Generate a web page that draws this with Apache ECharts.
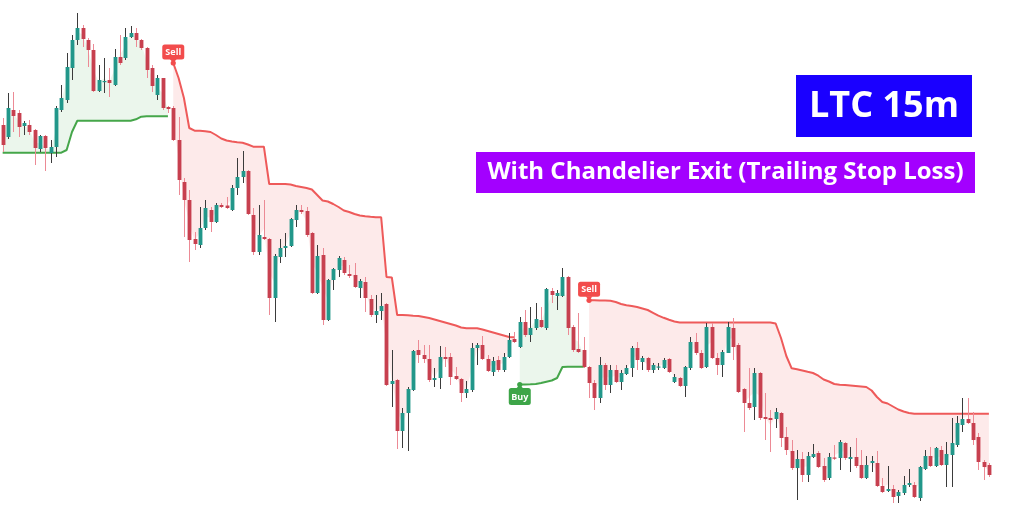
<!DOCTYPE html>
<html>
<head>
<meta charset="utf-8">
<script src="https://cdn.jsdelivr.net/npm/echarts/dist/echarts.min.js"></script>
<style>
  html, body { margin: 0; padding: 0; background: #ffffff; }
  #chart { width: 1013px; height: 531px; }
</style>
</head>
<body>
<div id="chart"></div>
<script>
// LTC 15m candles (bar 0 .. 185)
const openPrices = [
  47.5, 46.3, 49.0, 48.7, 47.4, 47.5, 47.0, 45.1, 46.4, 44.7,
  45.3, 49.0, 50.0, 53.2, 56.0, 57.2, 56.0, 55.0, 50.9, 51.8,
  52.0, 51.5, 54.3, 54.2, 56.3, 56.7, 56.0, 55.2, 53.2, 50.5,
  52.2, 49.3, 49.2, 46.0, 41.8, 40.0, 36.1, 35.5, 37.2, 39.0,
  37.8, 39.5, 39.45, 39.0, 41.2, 42.3, 42.9, 38.5, 34.8, 36.3,
  36.1, 30.2, 34.3, 35.2, 35.4, 38.0, 39.0, 38.9, 36.7, 30.7,
  34.5, 28.0, 32.0, 33.0, 34.0, 32.6, 32.5, 31.2, 31.8, 30.1,
  28.5, 28.9, 29.6, 21.6, 22.0, 16.9, 18.7, 21.0, 25.0, 24.5,
  24.1, 22.0, 22.2, 24.3, 24.3, 22.4, 22.1, 20.7, 21.0, 25.2,
  25.5, 24.1, 22.8, 24.0, 23.0, 24.3, 26.1, 25.3, 27.8, 26.5,
  27.2, 28.0, 27.2, 30.9, 30.4, 30.4, 32.3, 27.3, 25.1, 25.0,
  23.3, 21.7, 20.2, 23.5, 21.5, 23.0, 21.8, 22.6, 23.2, 25.2,
  23.8, 24.2, 23.0, 23.25, 23.2, 24.1, 21.8, 22.2, 21.4, 23.2,
  25.8, 24.7, 23.3, 27.3, 24.2, 23.5, 24.7, 27.2, 25.5, 21.1,
  19.7, 19.3, 22.7, 18.3, 18.2, 18.1, 18.7, 16.3, 14.9, 13.2,
  14.1, 12.5, 14.3, 14.7, 13.4, 12.2, 14.25, 14.2, 15.7, 14.1,
  14.3, 13.5, 12.2, 13.7, 13.7, 11.4, 10.9, 11.1, 10.4, 10.7,
  11.5, 11.5, 10.2, 13.1, 14.4, 13.4, 15.0, 13.5, 14.5, 15.5,
  17.5, 18.1, 17.7, 16.3, 13.8, 13.5
];
const highPrices = [
  48.2, 50.7, 50.8, 49.0, 47.9, 48.0, 47.1, 46.5, 46.5, 46.0,
  49.4, 51.5, 54.7, 56.5, 58.7, 57.5, 56.2, 55.6, 53.5, 54.2,
  53.2, 55.1, 56.5, 57.2, 57.4, 57.2, 56.1, 55.3, 53.5, 52.5,
  52.2, 49.4, 49.4, 48.3, 42.2, 41.0, 36.8, 39.3, 40.0, 39.3,
  39.7, 39.7, 40.3, 41.5, 44.2, 44.9, 43.0, 39.2, 39.5, 40.0,
  36.2, 34.6, 36.1, 36.7, 38.2, 39.5, 39.5, 39.3, 36.8, 35.5,
  35.2, 32.1, 33.2, 34.4, 34.3, 33.5, 33.7, 32.1, 32.3, 30.5,
  30.5, 30.7, 29.7, 25.0, 22.1, 19.2, 21.3, 25.0, 26.0, 25.5,
  25.5, 23.2, 25.4, 25.3, 24.7, 23.3, 22.2, 21.9, 25.7, 25.7,
  26.4, 24.5, 24.3, 24.4, 24.7, 26.7, 26.8, 28.3, 29.0, 29.3,
  29.7, 29.3, 31.2, 31.2, 31.0, 33.2, 32.4, 27.5, 28.7, 26.3,
  23.4, 22.0, 24.3, 23.7, 23.5, 23.5, 23.0, 23.5, 25.4, 25.8,
  24.4, 24.3, 23.7, 23.7, 24.2, 24.2, 22.6, 22.3, 23.4, 26.3,
  26.7, 25.0, 27.7, 27.7, 24.7, 25.0, 27.8, 28.2, 25.7, 21.2,
  23.2, 23.2, 22.8, 20.7, 19.0, 19.2, 18.8, 17.3, 16.0, 15.0,
  14.8, 14.8, 15.6, 14.9, 14.2, 14.7, 15.5, 16.0, 15.8, 15.3,
  16.2, 15.0, 14.4, 14.4, 14.9, 12.2, 13.4, 11.5, 11.0, 12.4,
  13.1, 11.8, 13.4, 15.0, 15.3, 15.3, 15.4, 15.8, 18.2, 18.4,
  20.2, 20.2, 18.8, 16.7, 14.0, 13.7
];
const lowPrices = [
  44.8, 46.1, 46.8, 46.3, 46.5, 46.5, 43.5, 44.8, 42.9, 43.7,
  44.3, 48.8, 49.7, 52.0, 55.5, 55.3, 53.3, 50.8, 50.8, 50.7,
  50.3, 51.4, 53.5, 54.0, 56.2, 55.3, 55.0, 52.2, 50.8, 50.0,
  49.0, 48.7, 45.9, 40.5, 36.3, 33.8, 35.0, 35.2, 37.0, 36.8,
  37.7, 39.2, 39.1, 38.9, 40.5, 41.7, 38.5, 34.5, 34.5, 36.0,
  28.5, 27.8, 33.7, 34.3, 35.3, 37.3, 38.6, 36.3, 30.6, 30.6,
  27.5, 27.9, 31.0, 32.3, 32.5, 32.2, 31.2, 30.2, 28.8, 28.3,
  27.7, 28.0, 21.4, 19.3, 15.1, 15.2, 14.9, 20.9, 23.7, 23.7,
  21.8, 21.3, 21.1, 23.3, 21.5, 22.0, 19.8, 20.2, 20.8, 23.5,
  24.0, 22.8, 22.4, 22.8, 22.8, 24.2, 25.7, 25.2, 26.3, 25.8,
  27.0, 27.2, 27.0, 29.7, 29.0, 30.3, 26.5, 24.8, 24.7, 23.2,
  20.2, 19.0, 19.7, 21.0, 20.7, 21.7, 21.0, 22.5, 22.3, 23.0,
  23.0, 22.8, 22.7, 23.0, 23.1, 22.7, 21.7, 21.3, 20.3, 23.0,
  24.5, 23.1, 23.2, 24.1, 22.5, 22.3, 24.7, 24.0, 20.7, 16.8,
  19.0, 18.0, 18.0, 16.0, 14.8, 17.2, 15.3, 14.5, 13.0, 10.0,
  11.8, 11.8, 14.2, 13.2, 11.8, 12.0, 14.0, 13.0, 14.0, 12.8,
  13.2, 12.1, 12.1, 12.8, 11.3, 10.7, 10.8, 9.7, 9.7, 10.5,
  11.3, 10.2, 9.9, 13.0, 13.3, 13.3, 13.4, 11.3, 11.3, 15.3,
  16.8, 17.6, 15.5, 13.0, 12.0, 12.3
];
const closePrices = [
  45.5, 49.2, 48.4, 47.3, 47.7, 46.8, 45.2, 46.4, 45.2, 45.3,
  49.2, 50.2, 53.3, 56.0, 57.2, 56.1, 55.0, 50.9, 52.0, 51.9,
  51.7, 54.3, 53.7, 56.3, 56.7, 56.0, 55.2, 53.0, 51.4, 52.2,
  49.2, 49.1, 46.0, 42.0, 40.0, 36.0, 35.6, 37.2, 39.2, 37.8,
  39.5, 39.3, 39.2, 41.2, 42.3, 42.9, 38.6, 34.8, 36.5, 36.1,
  30.2, 34.4, 35.2, 35.4, 38.1, 39.0, 38.8, 36.5, 30.7, 34.4,
  28.0, 32.0, 33.1, 34.2, 32.7, 32.4, 31.3, 31.9, 30.2, 28.5,
  28.9, 29.4, 21.5, 21.9, 16.9, 18.7, 21.1, 24.9, 24.5, 24.1,
  22.0, 22.2, 24.3, 24.1, 22.3, 22.1, 20.7, 21.1, 25.2, 25.5,
  24.1, 22.9, 23.9, 23.0, 24.3, 26.0, 25.8, 27.8, 26.5, 27.2,
  28.1, 27.3, 31.1, 30.5, 30.7, 32.3, 27.2, 25.0, 24.8, 23.3,
  21.7, 20.2, 23.5, 21.5, 23.0, 21.8, 22.7, 23.2, 25.2, 24.0,
  24.2, 23.0, 23.5, 23.35, 24.0, 22.8, 22.3, 21.4, 23.3, 25.8,
  24.7, 23.2, 27.3, 24.2, 23.5, 24.8, 27.3, 25.3, 20.8, 19.7,
  19.2, 22.7, 18.2, 18.1, 18.0, 18.8, 16.2, 15.0, 13.2, 14.1,
  12.5, 14.4, 14.6, 13.3, 12.0, 14.3, 14.15, 15.8, 14.2, 14.3,
  13.4, 12.2, 13.5, 13.9, 11.4, 10.8, 11.1, 10.3, 10.8, 11.5,
  11.7, 10.3, 13.3, 14.4, 13.4, 15.2, 13.5, 14.6, 15.7, 17.7,
  18.1, 17.7, 16.0, 13.8, 13.3, 12.5
];

// Chandelier Exit stop levels, one array per regime run (first bar index in the name)
const longStopFrom0 = [
  44.73, 44.73, 44.73, 44.73, 44.73, 44.73, 44.73, 44.73, 44.73, 44.73,
  44.73, 44.73, 45.0, 46.8, 47.93, 47.93, 47.93, 47.93, 47.93, 47.93,
  47.93, 47.93, 47.93, 47.93, 47.93, 48.07, 48.33, 48.37, 48.37, 48.37,
  48.37, 48.37
];
const shortStopFrom32 = [
  53.7, 52.2, 50.2, 47.2, 46.93, 46.93, 46.88, 46.8, 46.5, 46.15,
  45.95, 45.85, 45.77, 45.73, 45.55, 45.33, 45.33, 45.33, 41.6, 41.6,
  41.6, 41.6, 41.55, 41.4, 41.3, 41.2, 41.05, 40.5, 39.95, 39.85,
  39.6, 39.3, 38.95, 38.8, 38.6, 38.45, 38.37, 38.32, 38.28, 38.27,
  32.3, 32.25, 28.5, 28.5, 28.47, 28.43, 28.4, 28.3, 28.2, 28.05,
  27.9, 27.75, 27.6, 27.45, 27.25, 27.17, 27.17, 27.17, 27.05, 26.9,
  26.75, 26.6, 26.45, 26.3, 26.27
];
const longStopFrom97 = [
  21.55, 21.55, 21.57, 21.6, 21.7, 21.83, 21.95, 22.2, 23.3, 23.33,
  23.33, 23.33, 23.33
];
const shortStopFrom110 = [
  29.97, 29.97, 29.95, 29.94, 29.93, 29.8, 29.6, 29.47, 29.4, 29.3,
  29.15, 29.0, 28.72, 28.44, 28.22, 28.02, 27.85, 27.75, 27.75, 27.75,
  27.75, 27.75, 27.75, 27.75, 27.75, 27.75, 27.75, 27.75, 27.75, 27.75,
  27.75, 27.75, 27.75, 27.75, 27.75, 27.65, 26.2, 24.4, 23.17, 23.07,
  22.95, 22.82, 22.7, 22.43, 22.05, 21.85, 21.6, 21.53, 21.5, 21.45,
  21.4, 21.35, 21.3, 20.95, 20.3, 19.8, 19.65, 19.35, 19.05, 18.85,
  18.7, 18.62, 18.62, 18.62, 18.62, 18.62, 18.62, 18.62, 18.62, 18.62,
  18.62, 18.62, 18.62, 18.62, 18.62, 18.62
];

const stopRuns = [
  { dir: 1, from: 0, values: longStopFrom0 },
  { dir: -1, from: 32, values: shortStopFrom32 },
  { dir: 1, from: 97, values: longStopFrom97 },
  { dir: -1, from: 110, values: shortStopFrom110 }
];

const headline = 'LTC 15m';
const subHeadline = 'With Chandelier Exit (Trailing Stop Loss)';

const COLORS = {
  bodyUp: '#22978a', bodyDown: '#c7404f',
  wickUp: '#3b3b3b', wickDown: '#ec8a95',
  longLine: '#45a64a', shortLine: '#ee5a5a',
  longFill: 'rgba(76,175,80,0.11)', shortFill: 'rgba(242,80,80,0.12)',
  buy: '#3da548', sell: '#f24c4c'
};

const barCount = openPrices.length;
const categories = openPrices.map((_, i) => String(i));
const midPrice = openPrices.map((o, i) => (o + highPrices[i] + lowPrices[i] + closePrices[i]) / 4);

const longStop = new Array(barCount).fill(null);
const shortStop = new Array(barCount).fill(null);
const stopAt = new Array(barCount).fill(null);
stopRuns.forEach(run => {
  run.values.forEach((v, k) => {
    const i = run.from + k;
    (run.dir > 0 ? longStop : shortStop)[i] = v;
    stopAt[i] = v;
  });
});
const signals = stopRuns.filter(r => r.from > 0).map(r => ({
  bar: r.from, value: r.values[0], text: r.dir > 0 ? 'Buy' : 'Sell', dir: r.dir
}));

const candleData = openPrices.map((o, i) => [i, o, closePrices[i], lowPrices[i], highPrices[i]]);

function renderCandle(params, api) {
  const i = api.value(0);
  const o = api.value(1), c = api.value(2), l = api.value(3), h = api.value(4);
  const pO = api.coord([i, o]), pC = api.coord([i, c]);
  const pH = api.coord([i, h]), pL = api.coord([i, l]);
  const bw = api.size([1, 0])[0] * 0.72;
  const up = c >= o;
  const x = Math.round(pO[0]) + 0.5;
  const top = Math.min(pO[1], pC[1]);
  const hgt = Math.max(Math.abs(pO[1] - pC[1]), 1.2);
  return {
    type: 'group',
    children: [
      { type: 'line', shape: { x1: x, y1: pH[1], x2: x, y2: pL[1] },
        style: { stroke: up ? COLORS.wickUp : COLORS.wickDown, lineWidth: 1 } },
      { type: 'rect', shape: { x: x - bw / 2, y: top, width: bw, height: hgt },
        style: { fill: up ? COLORS.bodyUp : COLORS.bodyDown } }
    ]
  };
}

function renderFill(params, api) {
  const run = stopRuns[params.dataIndex];
  const last = run.from + run.values.length - 1;
  const pts = [];
  for (let i = run.from; i <= last; i++) pts.push(api.coord([i, stopAt[i]]));
  for (let i = last; i >= run.from; i--) pts.push(api.coord([i, midPrice[i]]));
  return {
    type: 'polygon',
    shape: { points: pts },
    style: { fill: run.dir > 0 ? COLORS.longFill : COLORS.shortFill }
  };
}

function renderSignal(params, api) {
  const s = signals[params.dataIndex];
  const p = api.coord([s.bar, s.value]);
  const sell = s.dir < 0;
  const color = sell ? COLORS.sell : COLORS.buy;
  const w = 22, h = sell ? 15 : 17;
  const boxY = sell ? p[1] - 3.5 - h : p[1] + 3.5;
  const tri = sell
    ? [[p[0] - 3.5, boxY + h - 0.5], [p[0] + 3.5, boxY + h - 0.5], [p[0], p[1]]]
    : [[p[0] - 3.5, boxY + 0.5], [p[0] + 3.5, boxY + 0.5], [p[0], p[1]]];
  return {
    type: 'group',
    children: [
      { type: 'circle', shape: { cx: p[0], cy: p[1], r: 2.6 }, style: { fill: color } },
      { type: 'polygon', shape: { points: tri }, style: { fill: color } },
      { type: 'rect', shape: { x: p[0] - w / 2, y: boxY, width: w, height: h, r: 2.5 }, style: { fill: color } },
      { type: 'text', x: p[0], y: boxY + h / 2 + 0.5,
        style: { text: s.text, fill: '#ffffff', font: 'bold 9px "Open Sans", sans-serif',
                 align: 'center', verticalAlign: 'middle' } }
    ]
  };
}

const chart = echarts.init(document.getElementById('chart'), null, { renderer: 'canvas' });
chart.setOption({
  animation: false,
  backgroundColor: '#ffffff',
  grid: { left: -1.67, right: 21.43, top: 0, bottom: 0, containLabel: false },
  xAxis: {
    type: 'category', data: categories, boundaryGap: true, show: false
  },
  yAxis: {
    type: 'value', min: 6.9, max: 60, show: false, splitLine: { show: false }
  },
  series: [
    {
      name: 'fill', type: 'custom', renderItem: renderFill, z: 1, silent: true,
      data: stopRuns.map(r => [r.from, r.values[0]]), clip: true
    },
    {
      name: 'Long Stop', type: 'line', data: longStop, z: 3, symbol: 'none', silent: true,
      connectNulls: false, lineStyle: { color: COLORS.longLine, width: 2 }
    },
    {
      name: 'Short Stop', type: 'line', data: shortStop, z: 3, symbol: 'none', silent: true,
      connectNulls: false, lineStyle: { color: COLORS.shortLine, width: 2 }
    },
    {
      name: 'LTC', type: 'custom', renderItem: renderCandle, z: 4, silent: true,
      data: candleData, encode: { x: 0, y: [1, 2, 3, 4] }, clip: false
    },
    {
      name: 'signals', type: 'custom', renderItem: renderSignal, z: 5, silent: true,
      data: signals.map(s => [s.bar, s.value]), clip: false
    }
  ],
  graphic: [
    { type: 'rect', x: 796, y: 75, shape: { width: 176, height: 62 }, style: { fill: '#1a00ff' }, z: 10 },
    { type: 'text', x: 884, y: 107, z: 11,
      style: { text: headline, fill: '#ffffff', font: 'bold 36px "Open Sans", sans-serif',
               align: 'center', verticalAlign: 'middle' } },
    { type: 'rect', x: 476, y: 152, shape: { width: 499, height: 41 }, style: { fill: '#a300ff' }, z: 10 },
    { type: 'text', x: 725.5, y: 172.5, z: 11,
      style: { text: subHeadline, fill: '#ffffff', font: 'bold 24px "Open Sans", sans-serif',
               align: 'center', verticalAlign: 'middle' } }
  ]
});
</script>
</body>
</html>
